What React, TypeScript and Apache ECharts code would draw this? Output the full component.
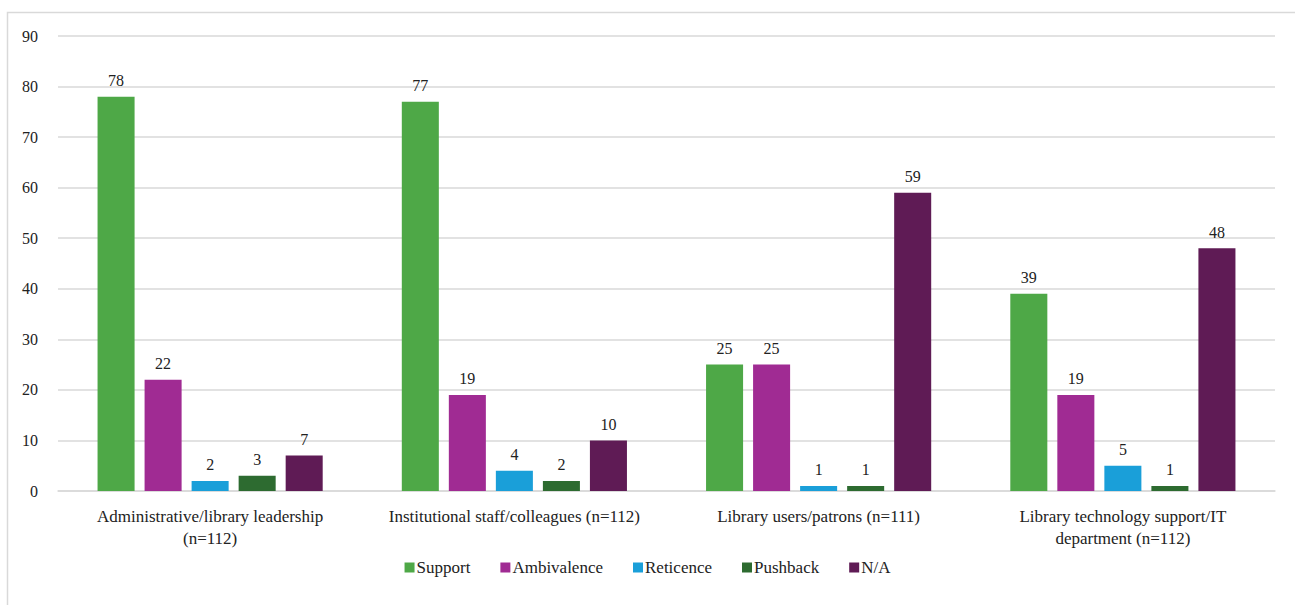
import React, { useEffect, useRef } from "react";
import * as echarts from "echarts";

const categories = [
  "Administrative/library leadership\n(n=112)",
  "Institutional staff/colleagues (n=112)",
  "Library users/patrons (n=111)",
  "Library technology support/IT\ndepartment (n=112)",
];
const seriesNames = ["Support", "Ambivalence", "Reticence", "Pushback", "N/A"];
const support = [78, 77, 25, 39];
const ambivalence = [22, 19, 25, 19];
const reticence = [2, 4, 1, 5];
const pushback = [3, 2, 1, 1];
const na = [7, 10, 59, 48];
const colors = ["#4EA847", "#A02B93", "#1A9FD9", "#2D6B30", "#5F1B55"];

const FONT = "Times New Roman, Tinos, Liberation Serif, DejaVu Serif, serif";

export default function App() {
  const ref = useRef<HTMLDivElement>(null);
  useEffect(() => {
    if (!ref.current) return;
    const chart = echarts.init(ref.current, undefined, { renderer: "svg" });
    const values = [support, ambivalence, reticence, pushback, na];
    chart.setOption({
      animation: false,
      textStyle: { fontFamily: FONT },
      graphic: [
        {
          type: "rect",
          shape: { x: 7.5, y: 12.5, width: 1300, height: 600 },
          style: { fill: "none", stroke: "#d9d9d9", lineWidth: 1.5 },
          silent: true,
        },
      ],
      grid: { left: 58, right: 20, top: 36, bottom: 114 },
      legend: {
        bottom: 24,
        left: "center",
        itemWidth: 10,
        itemHeight: 10,
        itemGap: 30,
        icon: "rect",
        textStyle: { fontFamily: FONT, fontSize: 17, color: "#222", padding: [0, 0, 0, -3] },
        data: seriesNames,
      },
      xAxis: {
        type: "category",
        data: categories,
        axisTick: { show: false },
        axisLine: { lineStyle: { color: "#d9d9d9", width: 1.5 } },
        axisLabel: {
          fontFamily: FONT,
          fontSize: 17,
          color: "#222",
          margin: 14,
          lineHeight: 22,
          interval: 0,
        },
      },
      yAxis: {
        type: "value",
        min: 0,
        max: 90,
        interval: 10,
        axisLine: { show: false },
        axisTick: { show: false },
        splitLine: { lineStyle: { color: "#d9d9d9", width: 1.5 } },
        axisLabel: { fontFamily: FONT, fontSize: 16, color: "#222", margin: 20 },
      },
      series: seriesNames.map((name, i) => ({
        name,
        type: "bar",
        data: values[i],
        barGap: "27%",
        barCategoryGap: "26%",
        itemStyle: { color: colors[i] },
        label: {
          show: true,
          position: "top",
          distance: 8,
          fontFamily: FONT,
          fontSize: 16,
          color: "#222",
        },
      })),
    });
    return () => chart.dispose();
  }, []);
  return (
    <div
      ref={ref}
      style={{ position: "fixed", left: 0, top: 0, width: 1295, height: 605, background: "#fff" }}
    />
  );
}
